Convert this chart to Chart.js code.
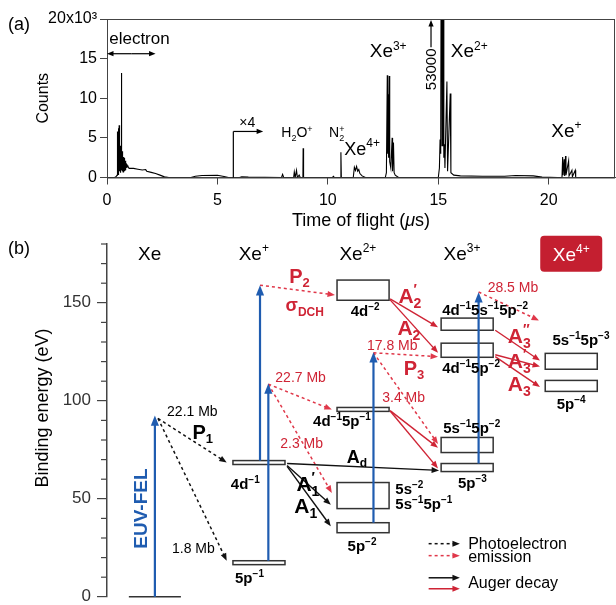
<!DOCTYPE html>
<html>
<head>
<meta charset="utf-8">
<script src="https://cdn.jsdelivr.net/npm/chart.js@4.4.0/dist/chart.umd.min.js"></script>
<style>
  body { margin: 0; background: #fff; }
  #wrap { position: relative; width: 616px; height: 605px; overflow: hidden; }
  canvas { position: absolute; left: 0; top: 0; }
</style>
</head>
<body>
<div id="wrap">
  <canvas id="levelChart" width="616" height="613"></canvas>
  <canvas id="tofChart" width="616" height="240"></canvas>
</div>
<script>
// === DATA ===
// (a) time-of-flight spectrum, time in µs, counts
const tofTime = [0, 0.35, 0.42, 0.46, 0.47, 0.48, 0.50, 0.51, 0.52, 0.54, 0.55, 0.56, 0.57, 0.58, 0.59, 0.60, 0.61, 0.62, 0.63,
  0.64, 0.65, 0.66, 0.67, 0.68, 0.69, 0.70, 0.71, 0.72, 0.73, 0.74, 0.75, 0.76, 0.77, 0.78, 0.79, 0.80, 0.81, 0.82, 0.83,
  0.84, 0.85, 0.86, 0.88, 0.90, 0.92, 0.95, 1.0, 1.2, 1.4, 1.6, 1.75, 1.8,
  2.0, 2.2, 2.4, 2.6, 2.8, 3.8, 4.0, 4.3, 5.0, 5.3, 5.5, 6.0, 6.1, 6.4, 7.9, 7.95, 8.0, 8.45, 8.48, 8.52, 8.58, 8.62, 8.70,
  8.75, 8.87, 8.88, 8.90, 10.2, 10.25, 10.3, 10.58, 10.59, 10.61, 11.15, 11.2, 11.25, 11.3, 11.35, 11.4, 11.45, 11.55, 11.7,
  12.6, 12.65, 12.69, 12.71, 12.73, 12.75, 12.78, 12.8, 12.85, 12.91, 12.93, 12.97, 13.0, 13.05, 13.2,
  15.0, 15.05, 15.08, 15.10, 15.12, 15.15, 15.17, 15.2, 15.22, 15.25, 15.28, 15.3, 15.39, 15.42, 15.54, 15.57, 15.7,
  16.0, 17.0, 18.0, 18.5, 19.3, 19.7, 20.4, 20.6, 20.63, 20.65, 20.7, 20.72, 20.76, 20.78, 20.9, 20.92, 21.05, 21.07,
  21.2, 21.22, 23];
const tofCounts = [0, 0, 150, 300, 5800, 600, 400, 6200, 900, 700, 6600, 2500, 800, 4300, 1500, 700, 4000, 1800, 600,
  3600, 13200, 2000, 900, 3300, 1600, 800, 3000, 1400, 700, 2600, 1300, 700, 2500, 1200, 800, 2200, 1100, 1900, 900,
  2100, 1200, 1800, 1700, 1200, 1500, 1400, 1150, 1150, 1050, 950, 1000, 800,
  650, 500, 300, 80, 0, 0, 150, 250, 280, 120, 0, 0, 100, 50, 0, 400, 0, 0, 700, 0, 900, 0, 300,
  0, 0, 3700, 0, 0, 150, 0, 0, 3200, 0, 0, 1300, 900, 1400, 800, 1000, 500, 200, 0,
  0, 600, 12900, 3000, 10500, 2500, 12800, 2000, 1200, 5000, 800, 4400, 600, 300, 0,
  0, 1200, 4800, 3000, 5000, 53000, 4000, 5000, 53000, 2500, 4200, 1200, 12100, 800, 10600, 600, 300,
  200, 150, 150, 250, 200, 50, 0, 0, 2600, 300, 2300, 200, 2700, 300, 2100, 200, 900, 100,
  900, 0, 0];
const tofTicks = [0, 5, 10, 15, 20];
const countTicks = [0, 5000, 10000, 15000, 20000];

// (b) energy levels: ion stage column, binding energy range (eV)
const stageNames = ['Xe', 'Xe^{+}', 'Xe^{2+}', 'Xe^{3+}', 'Xe^{4+}'];
const levelNames = ['4d^{−1}', '5p^{−1}', '4d^{−2}', '4d^{−1}5p^{−1}', '5s^{−2}', '5p^{−2}',
  '4d^{−1}5s^{−1}5p^{−2}', '4d^{−1}5p^{−2}', '5s^{−1}5p^{−2}', '5p^{−3}', '5s^{−1}5p^{−3}', '5p^{−4}'];
const levelStage = [1, 1, 2, 2, 2, 2, 3, 3, 3, 3, 4, 4];
const levelHigh = [69.5, 18.4, 161.6, 96.6, 58.3, 37.8, 142.2, 129.4, 81.3, 68.0, 124.2, 110.4];
const levelLow = [67.5, 16.4, 151.3, 94.6, 45.0, 32.7, 136.0, 122.2, 73.6, 63.9, 116.1, 104.8];
const energyTicks = [0, 50, 100, 150];

// EUV photon absorption arrows (column position, from -> to eV)
const photonX = [0.0, 1.01, 1.09, 2.10, 3.11];
const photonFrom = [0, 69.5, 18.4, 37.8, 68.0];
const photonTo = [92.5, 159, 108.8, 124.8, 155.4];

// photoelectron emission arrows [x, eV]
const peFrom = [[0.03, 91], [0.03, 91], [1.01, 159], [1.09, 108.5], [1.09, 108.5], [2.10, 124.5], [2.10, 124.5], [3.11, 155.5]];
const peTo = [[0.69, 68.5], [0.69, 18.4], [1.73, 154], [1.70, 95.5], [1.70, 53], [2.72, 122.5], [2.72, 78], [3.69, 141]];

// Auger decay arrows
const augerFrom = [[1.27, 68], [1.27, 67], [1.27, 66.5], [2.26, 152], [2.26, 151.5], [2.26, 95], [2.26, 94.8],
  [3.27, 136], [3.27, 123.5], [3.27, 122.5]];
const augerTo = [[2.73, 64.5], [1.69, 47], [1.69, 36], [2.72, 137.5], [2.72, 124.5], [2.72, 76], [2.72, 65.5],
  [3.70, 120.5], [3.70, 117.5], [3.70, 107]];

const FONT = '"Liberation Sans", Arial, sans-serif';
const RED = '#cf2435';
const RED_DOT = '#e0384a';
const BLUE = '#1f5cb0';

// === HELPERS ===
function parseRich(s) {
  const out = [];
  let i = 0, buf = '';
  while (i < s.length) {
    const c = s[i];
    if ((c === '^' || c === '_') && s[i + 1] === '{') {
      if (buf) { out.push({ t: buf, k: 'n' }); buf = ''; }
      const j = s.indexOf('}', i);
      out.push({ t: s.slice(i + 2, j), k: c === '^' ? 'sup' : 'sub' });
      i = j + 1;
    } else { buf += c; i++; }
  }
  if (buf) out.push({ t: buf, k: 'n' });
  return out;
}

// y is the visual middle of capitals
function richText(ctx, s, x, y, size, o = {}) {
  const w8 = o.bold ? 'bold ' : '';
  const small = Math.round(size * 0.65);
  const parts = parseRich(s);
  const pos = [];
  let total = 0, prev = null, prevStart = 0, prevW = 0;
  parts.forEach(p => {
    ctx.font = w8 + (p.k === 'n' ? size : small) + 'px ' + FONT;
    const w = ctx.measureText(p.t).width;
    if (p.k !== 'n' && prev && prev.k !== 'n' && prev.k !== p.k) {
      pos.push(prevStart);
      prevW = Math.max(prevW, w);
      total = prevStart + prevW;
    } else {
      pos.push(total); prevStart = total; prevW = w; total += w;
    }
    prev = p;
  });
  const x0 = o.align === 'center' ? x - total / 2 : o.align === 'right' ? x - total : x;
  const base = y + size * 0.36;
  ctx.fillStyle = o.color || '#000';
  ctx.textAlign = 'left';
  ctx.textBaseline = 'alphabetic';
  parts.forEach((p, i) => {
    ctx.font = w8 + (p.k === 'n' ? size : small) + 'px ' + FONT;
    const dy = p.k === 'sup' ? -size * 0.4 : p.k === 'sub' ? size * 0.24 : 0;
    ctx.fillText(p.t, x0 + pos[i], base + dy);
  });
}

function arrow(ctx, x1, y1, x2, y2, color, dash, head, width) {
  const ang = Math.atan2(y2 - y1, x2 - x1);
  ctx.strokeStyle = color; ctx.fillStyle = color; ctx.lineWidth = width;
  ctx.setLineDash(dash || []);
  ctx.beginPath();
  ctx.moveTo(x1, y1);
  ctx.lineTo(x2 - Math.cos(ang) * head * 0.7, y2 - Math.sin(ang) * head * 0.7);
  ctx.stroke();
  ctx.setLineDash([]);
  ctx.beginPath();
  ctx.moveTo(x2, y2);
  ctx.lineTo(x2 - head * Math.cos(ang - 0.38), y2 - head * Math.sin(ang - 0.38));
  ctx.lineTo(x2 - head * Math.cos(ang + 0.38), y2 - head * Math.sin(ang + 0.38));
  ctx.closePath();
  ctx.fill();
}

function vertText(ctx, s, x, y, size, o) {
  ctx.save();
  ctx.translate(x, y);
  ctx.rotate(-Math.PI / 2);
  richText(ctx, s, 0, 0, size, Object.assign({ align: 'center' }, o));
  ctx.restore();
}

// === PANEL (a) ===
const tofNotes = {
  id: 'tofNotes',
  afterDraw(chart) {
    const { ctx, chartArea: a, scales: { x, y } } = chart;
    ctx.save();
    ctx.strokeStyle = '#444'; ctx.lineWidth = 1;
    ctx.strokeRect(a.left + 0.5, a.top + 0.5, a.right - a.left - 1, a.bottom - a.top);

    richText(ctx, '(a)', 8, 24, 18);
    vertText(ctx, 'Counts', 42, (a.top + a.bottom) / 2, 16);
    // x axis title with italic mu
    ctx.font = '18px ' + FONT;
    const t1 = 'Time of flight (', t3 = 's)';
    const w1 = ctx.measureText(t1).width, w3 = ctx.measureText(t3).width;
    ctx.font = 'italic 18px ' + FONT;
    const w2 = ctx.measureText('μ').width;
    const tx = (a.left + a.right) / 2 - (w1 + w2 + w3) / 2;
    ctx.fillStyle = '#000'; ctx.textBaseline = 'middle'; ctx.textAlign = 'left';
    ctx.font = '18px ' + FONT; ctx.fillText(t1, tx, 221);
    ctx.font = 'italic 18px ' + FONT; ctx.fillText('μ', tx + w1, 221);
    ctx.font = '18px ' + FONT; ctx.fillText(t3, tx + w1 + w2, 221);

    // electron range
    richText(ctx, 'electron', x.getPixelForValue(0.1), y.getPixelForValue(17600), 17);
    const ey = y.getPixelForValue(15620);
    arrow(ctx, x.getPixelForValue(1.1), ey, x.getPixelForValue(2.2), ey, '#000', null, 7, 1.2);
    arrow(ctx, x.getPixelForValue(1.1), ey, x.getPixelForValue(0), ey, '#000', null, 7, 1.2);

    // x4 marker
    const x4 = x.getPixelForValue(5.72), y4 = y.getPixelForValue(5810);
    ctx.strokeStyle = '#000'; ctx.lineWidth = 1.2;
    ctx.beginPath(); ctx.moveTo(x4, y.getPixelForValue(0)); ctx.lineTo(x4, y4); ctx.stroke();
    arrow(ctx, x4, y4, x.getPixelForValue(7.07), y4, '#000', null, 7, 1.2);
    richText(ctx, '×4', x.getPixelForValue(6.35), y.getPixelForValue(7000), 14, { align: 'center' });

    richText(ctx, 'H_{2}O^{+}', x.getPixelForValue(8.6), y.getPixelForValue(5720), 14, { align: 'center' });
    richText(ctx, 'N_{2}^{+}', x.getPixelForValue(10.4), y.getPixelForValue(5720), 14, { align: 'center' });
    richText(ctx, 'Xe^{4+}', x.getPixelForValue(11.55), y.getPixelForValue(3700), 18, { align: 'center' });
    richText(ctx, 'Xe^{3+}', x.getPixelForValue(12.73), y.getPixelForValue(16040), 19, { align: 'center' });
    richText(ctx, 'Xe^{2+}', x.getPixelForValue(16.4), y.getPixelForValue(16040), 19, { align: 'center' });
    richText(ctx, 'Xe^{+}', x.getPixelForValue(20.8), y.getPixelForValue(5975), 19, { align: 'center' });

    // off-scale peak
    const px = x.getPixelForValue(14.67);
    arrow(ctx, px, y.getPixelForValue(16450), px, a.top + 1, '#000', null, 7, 1.2);
    vertText(ctx, '53000', px, y.getPixelForValue(13650), 15);
    ctx.restore();
  }
};

new Chart(document.getElementById('tofChart'), {
  type: 'scatter',
  data: {
    datasets: [{
      data: tofTime.map((t, i) => ({ x: t, y: tofCounts[i] })),
      showLine: true,
      borderColor: '#000',
      borderWidth: 1.1,
      pointRadius: 0,
      tension: 0
    }]
  },
  options: {
    responsive: false,
    animation: false,
    layout: { padding: { left: 0, right: 1, top: 19, bottom: 0 } },
    plugins: { legend: { display: false }, tooltip: { enabled: false } },
    scales: {
      x: {
        type: 'linear', min: 0, max: 23,
        afterFit: s => { s.height = 62.5; },
        afterBuildTicks: s => { s.ticks = tofTicks.map(v => ({ value: v })); },
        ticks: { color: '#000', font: { size: 16, family: FONT }, padding: 6, maxRotation: 0, autoSkip: false },
        grid: { drawOnChartArea: false, tickLength: 7, color: '#444' },
        border: { color: '#444' }
      },
      y: {
        min: 0, max: 20000,
        afterFit: s => { s.width = 107; },
        afterBuildTicks: s => { s.ticks = countTicks.map(v => ({ value: v })); },
        ticks: {
          color: '#000', font: { size: 16, family: FONT }, padding: 3,
          callback: v => v === 20000 ? '20x10³' : String(v / 1000)
        },
        grid: { drawOnChartArea: false, tickLength: 7, color: '#444' },
        border: { color: '#444' }
      }
    }
  },
  plugins: [tofNotes]
});

// === PANEL (b) ===
const levelDiagram = {
  id: 'levelDiagram',
  afterDraw(chart) {
    const { ctx, chartArea: a, scales: { x, y } } = chart;
    const X = v => x.getPixelForValue(v), Y = v => y.getPixelForValue(v);
    ctx.save();

    // minor ticks
    ctx.strokeStyle = '#444'; ctx.lineWidth = 1.2;
    for (let e = 10; e <= 180; e += 10) {
      if (e % 50 === 0) continue;
      ctx.beginPath(); ctx.moveTo(a.left - 6, Y(e)); ctx.lineTo(a.left, Y(e)); ctx.stroke();
    }
    richText(ctx, '(b)', 8, 248, 18);
    vertText(ctx, 'Binding energy (eV)', 42, 408, 18);

    // stage headers
    stageNames.forEach((s, i) => {
      if (i === 4) {
        const cx = X(i), cy = Y(175);
        ctx.fillStyle = '#c41f30';
        ctx.beginPath();
        ctx.roundRect(cx - 31, cy - 18, 62, 36, 4);
        ctx.fill();
        richText(ctx, s, cx, cy, 19, { align: 'center', color: '#fff' });
      } else {
        richText(ctx, s, X(i - 0.05), Y(175.4), 19, { align: 'center' });
      }
    });

    // neutral ground state
    ctx.strokeStyle = '#333'; ctx.lineWidth = 1.5;
    ctx.beginPath(); ctx.moveTo(X(-0.25), Y(0)); ctx.lineTo(X(0.25), Y(0)); ctx.stroke();

    // level boxes
    levelNames.forEach((n, i) => {
      const c = levelStage[i];
      const x0 = X(c - 0.25), x1 = X(c + 0.25), y0 = Y(levelHigh[i]), y1 = Y(levelLow[i]);
      ctx.fillStyle = '#fff'; ctx.strokeStyle = '#333'; ctx.lineWidth = 1.5;
      ctx.fillRect(x0, y0, x1 - x0, y1 - y0);
      ctx.strokeRect(x0, y0, x1 - x0, y1 - y0);
    });

    // photoelectron emission (dotted)
    peFrom.forEach((f, i) => {
      const col = f[0] < 0.5 ? '#111' : RED_DOT;
      arrow(ctx, X(f[0]), Y(f[1]), X(peTo[i][0]), Y(peTo[i][1]), col, [3, 3], 8, 1.5);
    });
    // Auger decay (solid)
    augerFrom.forEach((f, i) => {
      const col = f[0] < 1.5 ? '#111' : RED;
      arrow(ctx, X(f[0]), Y(f[1]), X(augerTo[i][0]), Y(augerTo[i][1]), col, null, 8, 1.4);
    });
    // EUV photon absorption
    photonX.forEach((px, i) => {
      arrow(ctx, X(px), Y(photonFrom[i]), X(px), Y(photonTo[i]), BLUE, null, 11, 2.2);
    });

    // level labels
    const spots = [
      [0.73, 57.8, 'left'], [0.77, 9.7, 'left'], [2.02, 145.8, 'center'], [1.52, 90, 'left'],
      [2.31, 55.2, 'left'], [1.99, 26, 'center'], [2.76, 146.5, 'left'], [2.76, 117, 'left'],
      [2.77, 86.5, 'left'], [3.05, 58.3, 'center'], [3.82, 131, 'left'], [3.86, 98.7, 'left']
    ];
    levelNames.forEach((n, i) => {
      const s = spots[i];
      richText(ctx, n, X(s[0]), Y(s[1]), 15, { bold: true, align: s[2] });
    });
    richText(ctx, '5s^{−1}5p^{−1}', X(2.31), Y(47.3), 15, { bold: true });

    // cross sections
    const mb = [
      ['22.1 Mb', 0.36, 95, '#000'], ['1.8 Mb', 0.37, 25, '#000'], ['22.7 Mb', 1.40, 112, RED],
      ['2.3 Mb', 1.41, 78.7, RED], ['17.8 Mb', 2.28, 128.3, RED], ['3.4 Mb', 2.39, 102, RED], ['28.5 Mb', 3.44, 158, RED]
    ];
    mb.forEach(m => richText(ctx, m[0], X(m[1]), Y(m[2]), 14, { align: 'center', color: m[3] }));

    // process labels
    const proc = [
      ['P_{1}', 0.46, 84.4, '#000', 20], ['P_{2}', 1.39, 164, RED, 20], ['σ_{DCH}', 1.44, 149, RED, 18],
      ['P_{3}', 2.49, 117, RED, 20], ['A_{d}', 1.94, 71.6, '#000', 18], ['A_{1}^{′}', 1.47, 58, '#000', 21],
      ['A_{1}', 1.45, 46.5, '#000', 21], ['A_{2}^{′}', 2.45, 154, RED, 21], ['A_{2}', 2.44, 137.5, RED, 21],
      ['A_{3}^{″}', 3.5, 133.5, RED, 21], ['A_{3}^{′}', 3.5, 120.7, RED, 21], ['A_{3}', 3.5, 109, RED, 21]
    ];
    proc.forEach(p => richText(ctx, p[0], X(p[1]), Y(p[2]), p[4], { bold: true, align: 'center', color: p[3] }));

    vertText(ctx, 'EUV-FEL', X(-0.14), Y(45), 19, { bold: true, color: BLUE });

    // legend
    const lx0 = X(2.63), lx1 = X(2.93), tx = X(3.01);
    arrow(ctx, lx0, Y(27.1), lx1, Y(27.1), '#111', [3, 3], 8, 1.5);
    arrow(ctx, lx0, Y(21), lx1, Y(21), RED_DOT, [3, 3], 8, 1.5);
    arrow(ctx, lx0, Y(9.7), lx1, Y(9.7), '#111', null, 8, 1.5);
    arrow(ctx, lx0, Y(4.1), lx1, Y(4.1), RED, null, 8, 1.5);
    richText(ctx, 'Photoelectron', tx, Y(27.4), 16);
    richText(ctx, 'emission', tx, Y(20.6), 16);
    richText(ctx, 'Auger decay', tx, Y(7.5), 16);
    ctx.restore();
  }
};

new Chart(document.getElementById('levelChart'), {
  type: 'scatter',
  data: { datasets: [{ data: [], pointRadius: 0 }] },
  options: {
    responsive: false,
    animation: false,
    layout: { padding: { left: 0, right: 0, top: 244, bottom: 0 } },
    plugins: { legend: { display: false }, tooltip: { enabled: false } },
    scales: {
      x: { type: 'linear', min: -0.46, max: 4.43, display: false },
      y: {
        min: 0, max: 180,
        afterFit: s => { s.width = 107; },
        afterBuildTicks: s => { s.ticks = energyTicks.map(v => ({ value: v })); },
        ticks: { color: '#333', font: { size: 17, family: FONT }, padding: 6 },
        grid: { drawOnChartArea: false, tickLength: 10, color: '#444', lineWidth: 1.2 },
        border: { color: '#444', width: 1.5 }
      }
    }
  },
  plugins: [levelDiagram]
});
</script>
</body>
</html>
